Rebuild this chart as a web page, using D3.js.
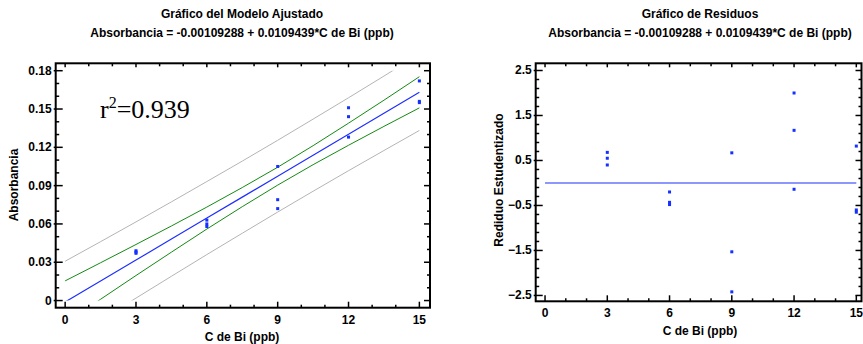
<!DOCTYPE html>
<html>
<head>
<meta charset="utf-8">
<script src="https://cdn.jsdelivr.net/npm/d3@7"></script>
<style>
html,body{margin:0;padding:0;background:#fff;}
svg{display:block;}
text{font-family:"Liberation Sans",Arial,sans-serif;font-weight:bold;fill:#000;}
</style>
</head>
<body>
<svg id="chart" width="863" height="344"></svg>
<script>
// ---- Data ----
const xTicks = [0, 3, 6, 9, 12, 15];
const yTicksFit = [0, 0.03, 0.06, 0.09, 0.12, 0.15, 0.18];
const yTicksRes = [-2.5, -1.5, -0.5, 0.5, 1.5, 2.5];

const concBi = [3, 3, 3, 6, 6, 6, 9, 9, 9, 12, 12, 12, 15, 15, 15];
const absorbancia = [0.039, 0.038, 0.037, 0.063, 0.060, 0.058, 0.105, 0.079, 0.072, 0.151, 0.144, 0.128, 0.172, 0.156, 0.155];
const residuos = [0.68, 0.55, 0.40, -0.20, -0.43, -0.48, 0.67, -1.53, -2.42, 2.00, 1.17, -0.14, 0.82, -0.60, -0.65];

const bandX      = [0, 1.5, 3, 4.5, 6, 7.5, 9, 10.5, 12, 13.5, 15];
const fitLine    = [-0.0011, 0.0153, 0.0317, 0.0482, 0.0646, 0.0810, 0.0974, 0.1138, 0.1302, 0.1467, 0.1631];
const confUpper  = [0.0154, 0.0296, 0.0439, 0.0584, 0.0732, 0.0885, 0.1044, 0.1213, 0.1389, 0.1569, 0.1753];
const confLower  = [-0.0176, 0.0010, 0.0196, 0.0379, 0.0560, 0.0735, 0.0904, 0.1064, 0.1216, 0.1364, 0.1509];
const predUpper  = [0.0308, 0.0461, 0.0616, 0.0773, 0.0932, 0.1092, 0.1255, 0.1421, 0.1588, 0.1758, 0.1930];
const predLower  = [-0.0330, -0.0154, 0.0019, 0.0190, 0.0360, 0.0527, 0.0693, 0.0856, 0.1017, 0.1175, 0.1332];
const zeroLineX  = [0, 15];
const zeroLineY  = [0, 0];

const titleFit = "Gráfico del Modelo Ajustado";
const titleRes = "Gráfico de Residuos";
const subtitle = "Absorbancia = -0.00109288 + 0.0109439*C de Bi (ppb)";
const xLabel = "C de Bi (ppb)";
const yLabelFit = "Absorbancia";
const yLabelRes = "Rediduo Estudentizado";

const svg = d3.select("#chart");
const FS = 12;

function frame(g, x, y, xMinor, yMinor, xMajor, yMajor, fmtY) {
  const [x0, x1] = x.range();
  const [y0, y1] = y.range(); // y0 bottom, y1 top
  const tk = g.append("g").attr("stroke", "#000").attr("stroke-width", 1.5);
  xMinor.forEach(v => {
    const major = xMajor.includes(v);
    tk.append("line").attr("x1", x(v)).attr("x2", x(v)).attr("y1", y0).attr("y2", y0 - (major ? 6 : 3));
    tk.append("line").attr("x1", x(v)).attr("x2", x(v)).attr("y1", y1).attr("y2", y1 + (major ? 4 : 3));
  });
  yMinor.forEach(v => {
    const major = yMajor.some(m => Math.abs(m - v) < 1e-9);
    tk.append("line").attr("x1", x0 - (major ? 2 : 0)).attr("x2", x0 + (major ? 7 : 3.5)).attr("y1", y(v)).attr("y2", y(v));
    tk.append("line").attr("x1", x1).attr("x2", x1 - (major ? 6 : 3)).attr("y1", y(v)).attr("y2", y(v));
  });
  g.append("rect").attr("x", x0).attr("y", y1).attr("width", x1 - x0).attr("height", y0 - y1)
    .attr("fill", "none").attr("stroke", "#000").attr("stroke-width", 2);
  g.append("g").selectAll("text").data(xMajor).join("text")
    .attr("x", d => x(d)).attr("y", y0 + 16).attr("text-anchor", "middle")
    .attr("font-size", FS).text(d => d);
  g.append("g").selectAll("text").data(yMajor).join("text")
    .attr("x", x0 - 4).attr("y", d => y(d) + 4).attr("text-anchor", "end")
    .attr("font-size", FS).text(fmtY);
}

// ================= Left chart =================
const xL = d3.scaleLinear().domain([-0.4, 15.45]).range([55.7, 430]);
const yL = d3.scaleLinear().domain([-0.0056, 0.1858]).range([307.7, 63.3]);
const gL = svg.append("g");

gL.append("text").attr("x", 242).attr("y", 18).attr("text-anchor", "middle").attr("font-size", FS).text(titleFit);
gL.append("text").attr("x", 242).attr("y", 37).attr("text-anchor", "middle").attr("font-size", FS).text(subtitle);

svg.append("defs").append("clipPath").attr("id", "clipL").append("rect")
  .attr("x", xL(-0.4)).attr("y", yL(0.18)).attr("width", xL(15.45) - xL(-0.4)).attr("height", yL(0) - yL(0.18));

const lineL = arr => d3.line().x((d, i) => xL(bandX[i])).y(d => yL(d))(arr);
const curves = gL.append("g").attr("clip-path", "url(#clipL)").attr("fill", "none").attr("stroke-width", 1);
curves.append("path").attr("d", lineL(predUpper)).attr("stroke", "#b4b4b4");
curves.append("path").attr("d", lineL(predLower)).attr("stroke", "#b4b4b4");
curves.append("path").attr("d", lineL(confUpper)).attr("stroke", "#138a13");
curves.append("path").attr("d", lineL(confLower)).attr("stroke", "#138a13");
curves.append("path").attr("d", lineL(fitLine)).attr("stroke", "#1f2fff").attr("stroke-width", 1.2);

gL.append("g").selectAll("rect").data(absorbancia).join("rect")
  .attr("x", (d, i) => xL(concBi[i]) - 1.5).attr("y", d => yL(d) - 1.5)
  .attr("width", 3).attr("height", 3).attr("fill", "#1530ff");

frame(gL, xL, yL, d3.range(0, 16, 1), d3.range(0, 0.1851, 0.01).map(v => +v.toFixed(2)), xTicks, yTicksFit,
  d => d === 0 ? "0" : d3.format(".2f")(d));

gL.append("text").attr("x", 242).attr("y", 341).attr("text-anchor", "middle").attr("font-size", FS).text(xLabel);
gL.append("text").attr("transform", "translate(18,185) rotate(-90)").attr("text-anchor", "middle")
  .attr("font-size", FS).text(yLabelFit);

const r2 = gL.append("text").attr("x", 100).attr("y", 118)
  .style("font-family", "'Liberation Serif','Times New Roman',serif").style("font-weight", "normal")
  .attr("font-size", 26);
r2.append("tspan").text("r");
r2.append("tspan").attr("dy", -10).attr("font-size", 16).text("2");
r2.append("tspan").attr("dy", 10).text("=0.939");

// ================= Right chart =================
const xR = d3.scaleLinear().domain([-0.45, 15.25]).range([535.7, 861.5]);
const yR = d3.scaleLinear().domain([-2.63, 2.66]).range([301.3, 63.3]);
const gR = svg.append("g");

gR.append("text").attr("x", 700).attr("y", 18).attr("text-anchor", "middle").attr("font-size", FS).text(titleRes);
gR.append("text").attr("x", 700).attr("y", 37).attr("text-anchor", "middle").attr("font-size", FS).text(subtitle);

gR.append("path")
  .attr("d", d3.line().x((d, i) => xR(zeroLineX[i])).y(d => yR(d))(zeroLineY))
  .attr("stroke", "#1f2fff").attr("stroke-width", 1.2).attr("fill", "none");

gR.append("g").selectAll("rect").data(residuos).join("rect")
  .attr("x", (d, i) => xR(concBi[i]) - 1.5).attr("y", d => yR(d) - 1.5)
  .attr("width", 3).attr("height", 3).attr("fill", "#1530ff");

frame(gR, xR, yR, d3.range(0, 16, 1), d3.range(-2.5, 2.51, 0.2).map(v => +v.toFixed(1)), xTicks, yTicksRes,
  d => d3.format(".1f")(d));

gR.append("text").attr("x", 700).attr("y", 335).attr("text-anchor", "middle").attr("font-size", FS).text(xLabel);
gR.append("text").attr("transform", "translate(503,180) rotate(-90)").attr("text-anchor", "middle")
  .attr("font-size", FS).text(yLabelRes);
</script>
</body>
</html>
